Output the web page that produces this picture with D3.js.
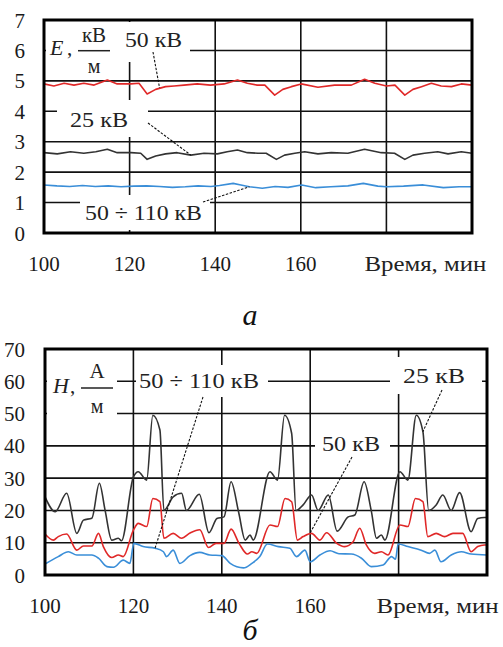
<!DOCTYPE html>
<html><head><meta charset="utf-8">
<script src="https://cdn.jsdelivr.net/npm/d3@7"></script>
<style>
html,body{margin:0;padding:0;background:#fff;}
</style></head>
<body><svg id="c" width="503" height="647"></svg>
<script>
// ---------- data ----------
const xTicks = [100, 120, 140, 160, 180, 200];
const xTickLabels = ["100", "120", "140", "160", "", ""];
const xTitle = "Время, мин";
const eTicks = [0, 1, 2, 3, 4, 5, 6, 7];
const hTicks = [0, 10, 20, 30, 40, 50, 60, 70];

// Panel a: E, kV/m  [time, value]
const e50 = [[100,4.9],[102.3,4.83],[104.7,4.92],[107,4.86],[109.3,4.92],[111.7,4.86],[114.8,5.03],[117.1,4.9],[120.3,4.9],[122.2,4.92],[124.1,4.57],[126.1,4.72],[128.4,4.81],[130.4,4.83],[132.7,4.86],[135.8,4.9],[138.9,4.86],[142.1,4.9],[145.2,5.03],[147.5,4.92],[149.8,4.86],[151.6,4.86],[153.9,4.53],[155.8,4.72],[157.8,4.81],[160.1,4.9],[164,4.79],[167.9,4.86],[171.8,4.86],[174.9,5.05],[177.3,4.92],[180,4.83],[182,4.86],[184.3,4.53],[186.2,4.72],[188.2,4.81],[190.5,4.92],[192.8,4.83],[195.2,4.81],[197.5,4.9],[200,4.86]];
const e25 = [[100,2.64],[103.1,2.6],[106.2,2.67],[109.3,2.62],[112.1,2.67],[114.8,2.75],[117.1,2.64],[120.3,2.64],[122.6,2.62],[124.1,2.42],[126.1,2.53],[128.4,2.6],[131.1,2.64],[134.3,2.56],[137.4,2.62],[140.5,2.6],[142.8,2.67],[145.2,2.73],[147.5,2.64],[150,2.62],[151.9,2.62],[154.3,2.42],[156.2,2.56],[158.6,2.62],[160.9,2.67],[164,2.6],[167.1,2.64],[171,2.62],[174.9,2.75],[178.8,2.64],[181.9,2.62],[184.3,2.42],[186.2,2.56],[188.9,2.62],[192,2.67],[194.4,2.6],[197.5,2.67],[200,2.62]];
const e50110 = [[100,1.58],[103,1.55],[106,1.53],[109,1.56],[112,1.53],[115,1.55],[118,1.52],[121,1.54],[124,1.55],[127,1.53],[130,1.5],[133,1.52],[136,1.55],[139,1.53],[141,1.56],[144.2,1.63],[146,1.58],[148,1.52],[151,1.47],[154,1.53],[157,1.5],[160.2,1.58],[163.5,1.49],[167,1.52],[171,1.55],[174.6,1.63],[178,1.54],[180,1.52],[184,1.54],[188.6,1.58],[193.3,1.49],[197,1.52],[200,1.52]];

// Panel b: H, A/m  [time, value]
const h25 = [[100,24.2],[102.3,19.6],[104.9,25.3],[107.2,12.9],[108.7,17],[110.6,17.6],[112.3,28.4],[113.6,20],[115.1,10.8],[116.6,11.4],[117.3,10.6],[120,30.4],[121.1,32],[123,29.4],[124.4,49.5],[126,44.9],[126.9,20],[129,24.2],[130.9,25.3],[132,20],[134.9,25],[137.1,13.1],[138.9,17.5],[140.5,18],[142.1,28.9],[143.8,19.5],[145.3,10.8],[146.4,12.4],[147.1,10.8],[150.9,32],[152.6,29.4],[154.2,49.5],[155.8,43.9],[156.8,20],[158.4,21.7],[160.3,24.8],[161.8,20],[164.1,24.8],[166.1,13.6],[168.6,18],[170.1,18.6],[172.2,28.9],[173.8,20],[175,11.4],[176.1,12.4],[176.9,10.8],[180.3,32],[182.1,29.4],[184,49.5],[185.5,44.4],[186.8,20],[188.5,21.7],[190,24.8],[191.9,20],[193.8,25.5],[196.4,13.4],[197.9,17.5],[199.4,17.8],[200,17.8]];
const h50 = [[100,12.7],[101.9,10.8],[103,11.9],[104.9,12.7],[107.2,7.7],[108.7,9],[110.6,9],[112.1,12.9],[113.2,8.8],[115.1,5.4],[116.6,6.2],[117.7,5.7],[120,13.9],[121.1,16],[123,15],[124.4,23.7],[126,22.7],[126.9,11.4],[129,12.9],[130.9,11.4],[132.8,13],[135,14],[137,8.5],[138.7,9.8],[140.5,9.8],[142.1,14.2],[143.9,9.8],[145.8,6.5],[146.8,7.2],[147.9,6.7],[150.9,15.5],[152.6,15],[154.3,23.7],[155.8,22.7],[157.1,10.8],[158.4,11.9],[160.3,12.9],[162.2,10.8],[163.7,13.1],[166,9.8],[167.8,8.8],[169.7,10.3],[171.2,14.5],[172.7,9.3],[174.6,6.7],[176.1,7.2],[177.6,6.2],[180.3,15.5],[182.1,15],[183.8,23.7],[185.5,22.7],[186.6,11.9],[188.5,12.9],[190.4,11.9],[192.3,12.9],[194.5,12.9],[196.4,7.2],[197.9,8.8],[199.4,9.3],[200,9.3]];
const h50110 = [[100,3.4],[103,5.7],[105.3,7.2],[107.2,6.2],[110.6,6.2],[112.1,5.2],[114,2.6],[115.5,2.4],[117.7,4.6],[119.2,3.6],[120.1,9.8],[122.2,8.8],[124.9,8.3],[126.8,7.2],[127.5,5.7],[129,7.7],[130.5,3.6],[132.8,6],[135,7],[137.3,6.2],[140,6],[141.9,3.6],[144.9,2.2],[146.8,3.6],[148.6,5.7],[150.3,9.6],[152.8,8.8],[155.4,8.3],[156.9,5.7],[158.8,7.7],[160,4.1],[162.2,6.2],[164.5,7.5],[166.5,6.6],[169.3,6.5],[171.6,5.2],[173.8,2.6],[176.5,3.1],[178.4,5.7],[179.3,4.9],[179.9,9.6],[182.1,8.8],[185.1,7.7],[187,6.7],[188.2,7.7],[189.6,4.1],[191.9,6.2],[194.2,7.2],[196.4,6.5],[200,6.2]];

const seriesNames = ["50 кВ", "25 кВ", "50 ÷ 110 кВ"];
const captions = ["а", "б"];

// ---------- drawing ----------
const FONT = '"Liberation Serif"';
const svg = d3.select("#c");
const RED = "#e02828", BLACK = "#333", BLUE = "#3a8ed8";

function txt(g) { return g.append("text").style("font-family", FONT); }

function panel(cfg) {
  const x = d3.scaleLinear().domain([100, 200]).range([cfg.left, cfg.right]);
  const y = d3.scaleLinear().domain([0, cfg.ticks[cfg.ticks.length - 1]]).range([cfg.bottom, cfg.top]);
  const g = svg.append("g");

  // grid
  g.append("g").selectAll("line").data(cfg.ticks.slice(1, -1)).join("line")
    .attr("x1", cfg.left).attr("x2", cfg.right)
    .attr("y1", d => y(d)).attr("y2", d => y(d))
    .attr("stroke", "#111").attr("stroke-width", 1.6);
  g.append("g").selectAll("line").data(xTicks.slice(1, -1)).join("line")
    .attr("x1", d => x(d)).attr("x2", d => x(d))
    .attr("y1", cfg.top).attr("y2", cfg.bottom)
    .attr("stroke", "#111").attr("stroke-width", 1.6);

  // series
  cfg.series.forEach(s => {
    g.append("path").datum(s.data)
      .attr("fill", "none").attr("stroke", s.color).attr("stroke-width", 1.6)
      .attr("stroke-linejoin", "round")
      .attr("d", d3.line().x(d => x(d[0])).y(d => y(d[1])).curve(cfg.curve));
  });

  // label backgrounds
  cfg.boxes.forEach(b => {
    g.append("rect").attr("x", b[0]).attr("y", b[1]).attr("width", b[2] - b[0]).attr("height", b[3] - b[1]).attr("fill", "#fff");
  });

  // frame
  g.append("rect").attr("x", cfg.left).attr("y", cfg.top)
    .attr("width", cfg.right - cfg.left).attr("height", cfg.bottom - cfg.top)
    .attr("fill", "none").attr("stroke", "#000").attr("stroke-width", 3);

  // y tick labels
  g.append("g").selectAll("text").data(cfg.ticks).join("text")
    .style("font-family", FONT)
    .attr("x", 25).attr("y", d => y(d)).attr("dy", "0.36em")
    .attr("text-anchor", "end").attr("font-size", 21).attr("fill", "#1a1a1a")
    .text(d => d);
  // x tick labels
  g.append("g").selectAll("text").data(xTicks.filter((d, i) => xTickLabels[i])).join("text")
    .style("font-family", FONT)
    .attr("x", d => x(d)).attr("y", cfg.bottom + 30).attr("dy", "0.36em")
    .attr("text-anchor", "middle").attr("font-size", 21).attr("fill", "#1a1a1a")
    .text((d, i) => xTickLabels[i]);
  txt(g).attr("x", x(180) - 22).attr("y", cfg.bottom + 30).attr("dy", "0.36em")
    .attr("font-size", 21).attr("fill", "#222").attr("textLength", 122).attr("lengthAdjust", "spacingAndGlyphs")
    .text(xTitle);

  // quantity label
  const q = cfg.qty;
  txt(g).attr("x", q.x).attr("y", q.y).attr("font-size", 22).attr("font-style", "italic").attr("fill", "#222").text(q.sym);
  txt(g).attr("x", q.x + 17).attr("y", q.y).attr("font-size", 21).attr("fill", "#222").text(",");
  txt(g).attr("x", q.fx).attr("y", q.ny).attr("font-size", 21).attr("text-anchor", "middle").attr("fill", "#222").text(q.num);
  g.append("line").attr("x1", q.fx - 16).attr("x2", q.fx + 16).attr("y1", q.by).attr("y2", q.by).attr("stroke", "#222").attr("stroke-width", 1.5);
  txt(g).attr("x", q.fx).attr("y", q.dy).attr("font-size", 20).attr("text-anchor", "middle").attr("fill", "#222").text(q.den);

  // series labels + leaders
  cfg.labels.forEach(l => {
    txt(g).attr("x", l.x).attr("y", l.y).attr("font-size", 22).attr("fill", "#222")
      .attr("textLength", l.w).attr("lengthAdjust", "spacingAndGlyphs").text(l.text);
    g.append("line").attr("x1", l.l[0]).attr("y1", l.l[1]).attr("x2", x(l.t)).attr("y2", y(l.v))
      .attr("stroke", "#111").attr("stroke-width", 1.1).attr("stroke-dasharray", "2.5,1.5");
  });

  txt(g).attr("x", 250).attr("y", cfg.capY).attr("font-size", 30).attr("font-style", "italic")
    .attr("text-anchor", "middle").attr("fill", "#111").text(cfg.caption);
}

panel({
  left: 44, right: 472, top: 20, bottom: 233, ticks: eTicks, curve: d3.curveLinear,
  series: [{data: e50, color: RED}, {data: e25, color: BLACK}, {data: e50110, color: BLUE}],
  boxes: [[46, 22, 190, 62], [57, 100, 148, 137], [80, 195, 210, 230]],
  qty: {sym: "E", x: 50, y: 55, fx: 94, ny: 42, by: 50.7, dy: 73, num: "кВ", den: "м"},
  labels: [
    {text: seriesNames[0], x: 125, y: 47, w: 57, l: [153, 52], t: 127, v: 4.77},
    {text: seriesNames[1], x: 70, y: 127, w: 58, l: [148, 123], t: 134.3, v: 2.56},
    {text: seriesNames[2], x: 85, y: 220, w: 117, l: [203, 202], t: 148, v: 1.52}
  ],
  caption: captions[0], capY: 325
});

panel({
  left: 45, right: 487, top: 349, bottom: 575, ticks: hTicks, curve: d3.curveMonotoneX,
  series: [{data: h25, color: BLACK}, {data: h50, color: RED}, {data: h50110, color: BLUE}],
  boxes: [[47, 351, 117, 415], [136, 365, 268, 397], [390, 357, 482, 394], [315, 430, 390, 458]],
  qty: {sym: "H", x: 53, y: 393, fx: 97, ny: 378, by: 388, dy: 413, num: "А", den: "м"},
  labels: [
    {text: seriesNames[2], x: 139, y: 388, w: 120, l: [203, 397], t: 124.9, v: 8.3},
    {text: seriesNames[1], x: 403, y: 383, w: 62, l: [442, 390], t: 185.5, v: 44.4},
    {text: seriesNames[0], x: 322, y: 451, w: 58, l: [352, 457], t: 159.9, v: 12.8}
  ],
  caption: captions[1], capY: 640
});
</script></body></html>
